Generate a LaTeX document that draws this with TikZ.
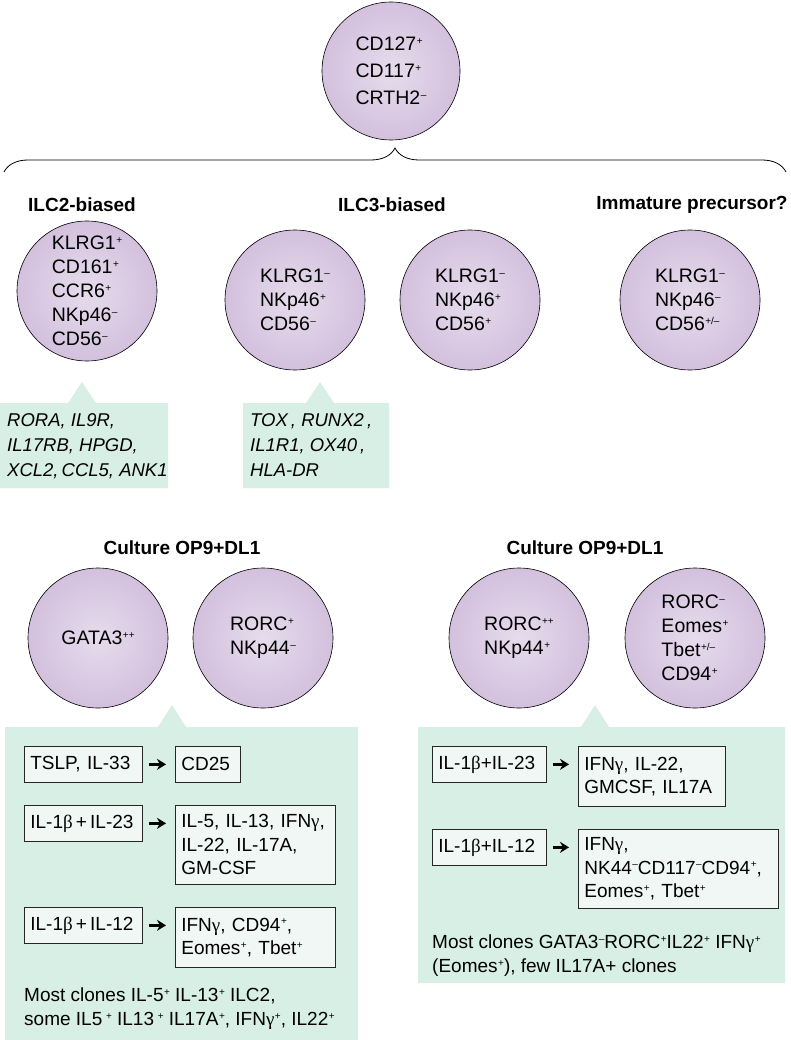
\documentclass[tikz,border=0pt]{standalone}
\usepackage{fontspec}
\setmainfont{Liberation Sans}
\newfontfamily\grk{Liberation Serif}
\usetikzlibrary{decorations.pathreplacing,arrows.meta}
\newcommand\supx[1]{\kern0.5pt\raisebox{0.34em}{\fontsize{10}{10}\selectfont #1}}
\newcommand\bet{{\grk β}}
\newcommand\gam{{\grk γ}}
\definecolor{cellin}{HTML}{E6DCEC}
\definecolor{cellout}{HTML}{D3C0DD}
\definecolor{callg}{HTML}{D8EFE5}
\definecolor{boxfill}{HTML}{F1F7F4}
\tikzset{
  cell/.style={circle, draw=black, line width=0.6pt, shading=radial, inner color=cellin, outer color=cellout, minimum size=140pt, inner sep=0pt, align=left, font=\fontsize{19.5}{24}\selectfont},
  head/.style={font=\fontsize{19}{22}\selectfont\bfseries, inner sep=0pt},
  gene/.style={anchor=north west, align=left, inner sep=0pt, font=\fontsize{18.5}{25}\selectfont\itshape},
  txt/.style={anchor=north west, align=left, inner sep=0pt, font=\fontsize{19}{23.5}\selectfont},
  box/.style={draw=black!85, fill=boxfill, line width=0.7pt, anchor=north west, align=left, inner xsep=6pt, inner ysep=3pt, font=\fontsize{19}{23.5}\selectfont},
  arr/.style={line width=2.4pt, -{Stealth[length=9pt,width=11pt]}, shorten <=6pt, shorten >=9pt},
}
\begin{document}
\begin{tikzpicture}[x=1pt,y=-1pt]
\useasboundingbox (0,0) rectangle (790,1040);
\fill[white] (0,0) rectangle (790,1040);

% top precursor
\node[cell, minimum size=138pt, font=\fontsize{19.5}{27}\selectfont] (top) at (391,71) {CD127\supx{+}\\CD117\supx{+}\\CRTH2\supx{–}};
\coordinate (bl) at (4,172);
\coordinate (br) at (786,172);
\draw[line width=0.8pt, decorate, decoration={brace, amplitude=24pt}] (bl) -- (br);

% headings
\node[head] (h2) at (82,205) {ILC2-biased};
\node[head] (h3) at (392,205) {ILC3-biased};
\node[head] (h0) at (692,205) {Immature precursor?};

% subsets
\node[cell] (c2) at (87,291) {KLRG1\supx{+}\\CD161\supx{+}\\CCR6\supx{+}\\NKp46\supx{–}\\CD56\supx{–}};
\node[cell] (c3a) at (295,300) {KLRG1\supx{–}\\NKp46\supx{+}\\CD56\supx{–}};
\node[cell] (c3b) at (470,300) {KLRG1\supx{–}\\NKp46\supx{+}\\CD56\supx{+}};
\node[cell] (cim) at (690,300) {KLRG1\supx{–}\\NKp46\supx{–}\\CD56\supx{+/–}};

% gene callouts
\fill[callg] (0,403) -- (68,403) -- (82,382) -- (96,403) -- (168,403) -- (168,488) -- (0,488) -- cycle;
\node[gene] (g2) at (7,413) {RORA, IL9R,\\IL17RB, HPGD,\\XCL2,\,CCL5, ANK1};
\fill[callg] (243,403) -- (306,403) -- (320,382) -- (334,403) -- (389,403) -- (389,488) -- (243,488) -- cycle;
\node[gene] (g3) at (250,413) {TOX\,, RUNX2\,,\\IL1R1, OX40\,,\\HLA-DR};

% culture headings
\node[head] (cu1) at (182,548) {Culture OP9+DL1};
\node[head] (cu2) at (585,548) {Culture OP9+DL1};

% culture cells
\node[cell] (k1) at (98,638) {GATA3\supx{++}};
\node[cell] (k2) at (263,638) {RORC\supx{+}\\NKp44\supx{–}};
\node[cell] (k3) at (519,638) {RORC\supx{++}\\NKp44\supx{+}};
\node[cell] (k4) at (695,638) {RORC\supx{–}\\Eomes\supx{+}\\Tbet\supx{+/–}\\CD94\supx{+}};

% panels
\fill[callg] (5,727) -- (158,727) -- (172,705) -- (186,727) -- (358,727) -- (358,1040) -- (5,1040) -- cycle;
\fill[callg] (418,727) -- (581,727) -- (595,705) -- (609,727) -- (785,727) -- (785,983) -- (418,983) -- cycle;

% left panel boxes
\node[box, text width=106pt, minimum height=36pt] (a1) at (24,746) {TSLP, IL-33};
\node[box, text width=53pt, minimum height=36pt] (b1) at (175,746) {CD25};
\node[box, text width=106pt, minimum height=36pt] (a2) at (24,805) {IL-1\bet\,+\,IL-23};
\node[box, text width=148pt, minimum height=79pt] (b2) at (175,805) {IL-5, IL-13, IFN\gam,\\IL-22, IL-17A,\\GM-CSF};
\node[box, text width=106pt, minimum height=36pt] (a3) at (24,907) {IL-1\bet\,+\,IL-12};
\node[box, text width=148pt, minimum height=60pt] (b3) at (175,907) {IFN\gam, CD94\supx{+},\\Eomes\supx{+}, Tbet\supx{+}};
\draw[arr] (a1.east) -- (b1.west |- a1.east);
\draw[arr] (a2.east) -- (b2.west |- a2.east);
\draw[arr] (a3.east) -- (b3.west |- a3.east);
\node[txt] (n1) at (24,988) {Most clones IL-5\supx{+} IL-13\supx{+} ILC2,\\some IL5\,\supx{+} IL13\,\supx{+} IL17A\supx{+}, IFN\gam\supx{+}, IL22\supx{+}};

% right panel boxes
\node[box, text width=102pt, minimum height=36pt] (r1) at (432,746) {IL-1\bet+IL-23};
\node[box, text width=135pt, minimum height=60pt] (s1) at (578,746) {IFN\gam, IL-22,\\GMCSF, IL17A};
\node[box, text width=102pt, minimum height=36pt] (r2) at (432,829) {IL-1\bet+IL-12};
\node[box, text width=188pt, minimum height=79pt] (s2) at (578,829) {IFN\gam,\\NK44\supx{–}CD117\supx{–}CD94\supx{+},\\Eomes\supx{+}, Tbet\supx{+}};
\draw[arr] (r1.east) -- (s1.west |- r1.east);
\draw[arr] (r2.east) -- (s2.west |- r2.east);
\node[txt] (n2) at (432,935) {Most clones GATA3\supx{–}RORC\supx{+}IL22\supx{+} IFN\gam\supx{+}\\(Eomes\supx{+}), few IL17A+ clones};
\end{tikzpicture}
\end{document}
